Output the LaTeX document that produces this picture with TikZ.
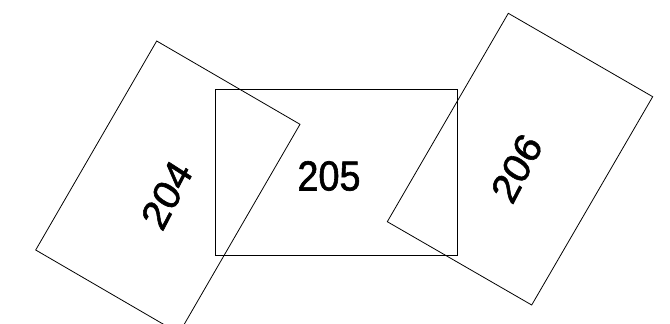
\documentclass[tikz,border=0pt]{standalone}
\usepackage{fontspec}
\setmainfont{Liberation Sans}
\newfontfamily\numfont[FakeBold=1.5]{Liberation Sans}
\begin{document}
\begin{tikzpicture}[x=1pt,y=-1pt,
  sheet/.style={draw=black,line width=0.8pt,line join=miter},
  num/.style={font=\numfont\fontsize{42}{48}\selectfont,inner sep=0pt,xscale=0.9}]
\useasboundingbox (0,0) rectangle (670,324);
\clip (0,0) rectangle (670,324);
% sheet 204
\coordinate (a1) at (156.7,41);
\coordinate (a2) at (300,124.3);
\coordinate (a3) at (179,333.3);
\coordinate (a4) at (35.7,250);
% sheet 205
\coordinate (b1) at (215.5,89.3);
\coordinate (b2) at (457.7,89.3);
\coordinate (b3) at (457.7,255);
\coordinate (b4) at (215.5,255);
% sheet 206
\coordinate (c1) at (508.3,13.3);
\coordinate (c2) at (652.7,96.7);
\coordinate (c3) at (531.7,305);
\coordinate (c4) at (387.3,221.7);
\draw[sheet] (a1) -- (a2) -- (a3) -- (a4) -- cycle;
\draw[sheet] (b1) -- (b2) -- (b3) -- (b4) -- cycle;
\draw[sheet] (c1) -- (c2) -- (c3) -- (c4) -- cycle;
\node[num] (t205) at (329,176) {205};
\node[num,rotate=60] (t204) at (166.7,195) {204};
\node[num,rotate=60] (t206) at (516.7,168.3) {206};
\end{tikzpicture}
\end{document}
